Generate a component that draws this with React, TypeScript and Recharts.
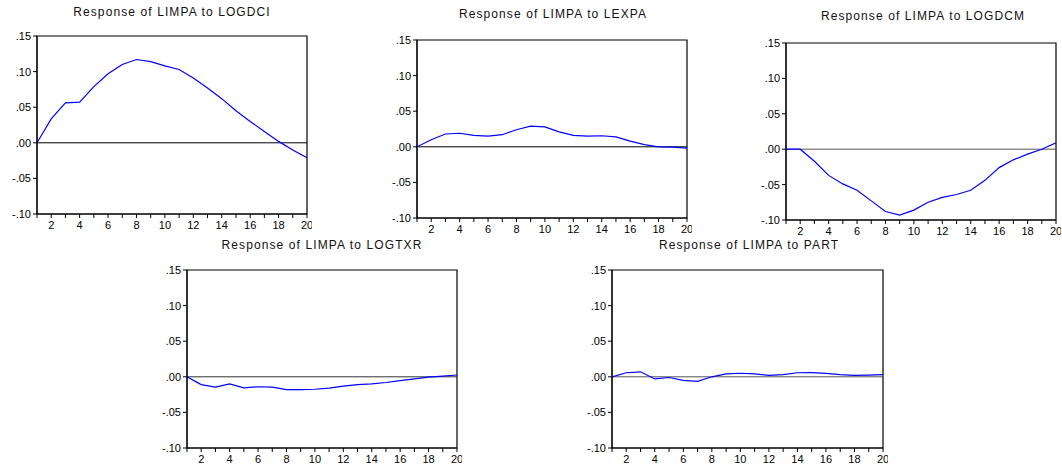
import React from "react";
import { LineChart, Line, XAxis, YAxis, ReferenceLine, ReferenceArea } from "recharts";

const periods = [1, 2, 3, 4, 5, 6, 7, 8, 9, 10, 11, 12, 13, 14, 15, 16, 17, 18, 19, 20];
const yTicks = [-0.1, -0.05, 0, 0.05, 0.1, 0.15];

const logdci = [0, 0.0336, 0.056, 0.057, 0.079, 0.097, 0.11, 0.117, 0.114, 0.108, 0.103, 0.091, 0.077, 0.062, 0.045, 0.03, 0.016, 0.002, -0.01, -0.021];
const lexpa = [0, 0.01, 0.018, 0.019, 0.016, 0.015, 0.017, 0.024, 0.029, 0.028, 0.021, 0.016, 0.015, 0.0155, 0.014, 0.008, 0.003, 0.0, -0.0005, -0.002];
const logdcm = [0, 0, -0.017, -0.037, -0.049, -0.058, -0.073, -0.088, -0.093, -0.086, -0.075, -0.068, -0.064, -0.058, -0.044, -0.026, -0.015, -0.007, 0.0, 0.009];
const logtxr = [0, -0.011, -0.0145, -0.01, -0.0155, -0.014, -0.0145, -0.018, -0.018, -0.0175, -0.016, -0.013, -0.011, -0.01, -0.008, -0.0055, -0.003, -0.0005, 0.001, 0.0025];
const part = [0, 0.0057, 0.007, -0.003, -0.001, -0.005, -0.0065, 0.0, 0.004, 0.005, 0.004, 0.002, 0.003, 0.0057, 0.006, 0.0047, 0.003, 0.002, 0.0024, 0.003];

const titles = [
  "Response of LIMPA to LOGDCI",
  "Response of LIMPA to LEXPA",
  "Response of LIMPA to LOGDCM",
  "Response of LIMPA to LOGTXR",
  "Response of LIMPA to PART",
];

const FONT = "'Liberation Sans', Arial, sans-serif";

const fmt = (v: number) => v.toFixed(2).replace("0.", ".");

const XTick = (props: any) => {
  const { x, y, payload } = props;
  if (payload.value % 2 !== 0) return <g />;
  return (
    <text x={x} y={y + 9} textAnchor="middle" fontSize={11} fontFamily={FONT} fill="#000">
      {payload.value}
    </text>
  );
};

type PanelProps = {
  values: number[];
  title: string;
  px: number;
  py: number;
  pw: number;
  ph: number;
  tx: number;
  ty: number;
  zeroColor: string;
};

const YW = 40;
const MT = 5;
const MR = 5;
const XH = 22;

const Panel = ({ values, title, px, py, pw, ph, tx, ty, zeroColor }: PanelProps) => {
  const data = periods.map((p, i) => ({ p, v: values[i] }));
  return (
    <>
      <div
        style={{
          position: "absolute",
          left: tx - 150,
          width: 300,
          top: ty - 8,
          textAlign: "center",
          fontFamily: FONT,
          fontSize: 12,
          letterSpacing: 1.1,
          color: "#111",
          whiteSpace: "nowrap",
        }}
      >
        {title}
      </div>
      <div style={{ position: "absolute", left: px - YW, top: py - MT }}>
        <LineChart
          width={pw + YW + MR}
          height={ph + MT + XH}
          data={data}
          margin={{ top: MT, right: MR, left: 0, bottom: 0 }}
        >
          <XAxis
            dataKey="p"
            type="number"
            domain={[1, 20]}
            ticks={periods}
            interval={0}
            tick={<XTick />}
            tickSize={4}
            height={XH}
            stroke="#000"
            allowDataOverflow
          />
          <YAxis
            type="number"
            domain={[-0.1, 0.15]}
            ticks={yTicks}
            interval={0}
            tickFormatter={fmt}
            tickSize={4}
            width={YW}
            stroke="#000"
            tick={{ fontSize: 11, fontFamily: FONT, fill: "#000" }}
            allowDataOverflow
          />
          <ReferenceArea x1={1} x2={20} y1={-0.1} y2={0.15} fill="none" stroke="#000" strokeWidth={1.2} />
          <ReferenceLine y={0} stroke={zeroColor} strokeWidth={1} />
          <Line
            dataKey="v"
            type="linear"
            stroke="#0000ff"
            strokeWidth={1.2}
            dot={false}
            isAnimationActive={false}
          />
        </LineChart>
      </div>
    </>
  );
};

export default function App() {
  return (
    <div style={{ position: "absolute", left: 0, top: 0, width: 1062, height: 466, background: "#fff", overflow: "hidden" }}>
      <Panel values={logdci} title={titles[0]} px={37} py={36} pw={270} ph={178} tx={172} ty={13} zeroColor="#000" />
      <Panel values={lexpa} title={titles[1]} px={417} py={40} pw={270} ph={178} tx={553} ty={15} zeroColor="#000" />
      <Panel values={logdcm} title={titles[2]} px={786} py={43} pw={270} ph={177} tx={923} ty={17} zeroColor="#555" />
      <Panel values={logtxr} title={titles[3]} px={187} py={270} pw={270} ph={178} tx={322} ty={246} zeroColor="#333" />
      <Panel values={part} title={titles[4]} px={612} py={270} pw={271} ph={178} tx={749} ty={246} zeroColor="#555" />
    </div>
  );
}
